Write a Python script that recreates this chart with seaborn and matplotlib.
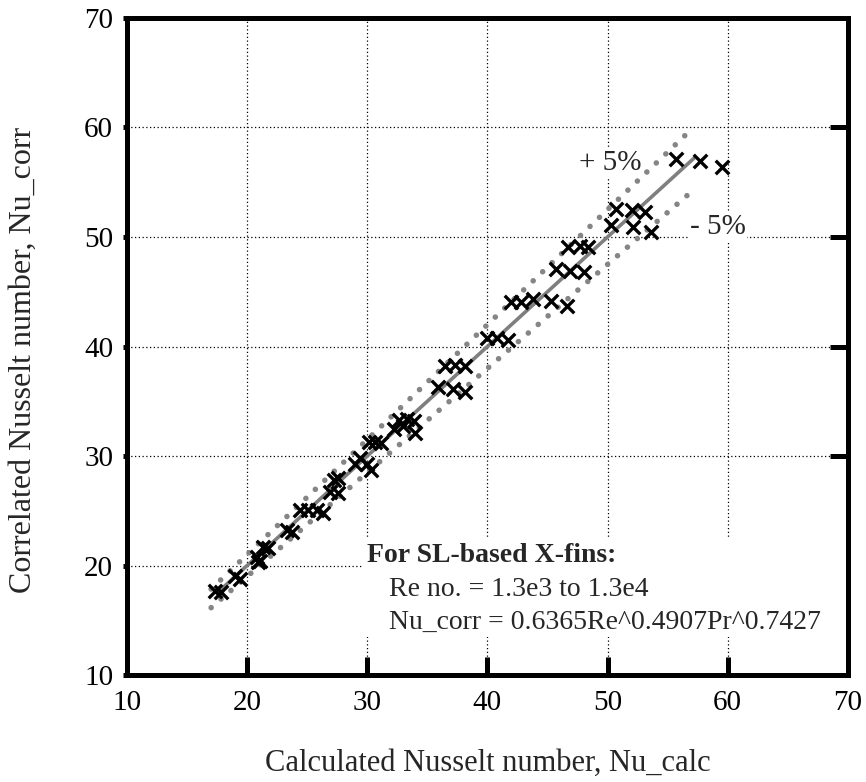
import matplotlib
matplotlib.use("Agg")
import matplotlib.pyplot as plt
import seaborn as sns
import numpy as np
import pandas as pd
from matplotlib.patches import Rectangle

# ---- data ----
nu_calc = [17.3, 17.8, 19.0, 19.4, 20.8, 21.1, 20.9, 21.3, 21.7, 23.3, 23.7,
           24.4, 25.1, 25.8, 26.3, 26.9, 27.6, 27.2, 27.6, 29.0, 29.4, 30.0, 30.3,
           30.1, 30.6, 31.1, 32.2, 32.6, 33.0, 33.3, 33.9, 34.0,
           36.5, 37.3, 38.1, 35.9, 37.1, 38.1, 40.0, 40.8, 41.7,
           42.0, 42.8, 43.8, 45.3, 46.6, 45.7, 46.9, 48.0, 46.7, 47.7, 48.4,
           50.7, 52.0, 53.1, 50.3, 52.1, 53.6, 55.7, 57.7, 59.5]
nu_corr = [17.7, 17.6, 19.0, 18.8, 20.8, 20.4, 20.3, 21.7, 21.6, 23.2, 23.1,
           25.1, 25.1, 25.1, 24.8, 26.7, 26.6, 27.8, 28.0, 29.3, 29.8, 29.3, 28.7,
           31.3, 31.3, 31.2, 32.5, 33.3, 32.7, 33.4, 33.2, 32.1,
           38.2, 38.3, 38.2, 36.3, 36.1, 35.8, 40.8, 40.8, 40.6,
           44.1, 44.1, 44.3, 44.2, 43.7, 47.05, 46.9, 46.8, 49.1, 49.2, 49.1,
           52.6, 52.5, 52.3, 51.1, 50.9, 50.5, 57.1, 56.9, 56.4]
parity_range = [17.5, 57.2]
band_range = [17.0, 57.1]
band_factors = [1.05, 0.95]
ticks = [10, 20, 30, 40, 50, 60, 70]
df = pd.DataFrame({"Nu_calc": nu_calc, "Nu_corr": nu_corr})

sns.set_theme(style="white")
plt.rcParams["font.family"] = ["Liberation Serif", "DejaVu Serif"]

fig = plt.figure(figsize=(8.66, 7.82), dpi=100)
ax = fig.add_axes([0.1467, 0.1368, 0.979 - 0.1467, 0.977 - 0.1368])

ax.set_xlim(10, 70)
ax.set_ylim(10, 70)
ax.set_xticks(ticks)
ax.set_yticks(ticks)
ax.grid(True, color="black", linestyle=(0, (1, 2)), linewidth=0.9)
ax.set_axisbelow(True)

# white box behind the annotation (hides grid)
ax.add_patch(Rectangle((29.6, 13.47), 70 - 29.6, 22.6 - 13.47,
                       facecolor="white", edgecolor="none", zorder=1.5))

# parity and +/-5% lines
ax.plot(parity_range, parity_range, color="#7f7f7f", lw=2.6, zorder=2)
for f in band_factors:
    bx = np.array(band_range)
    ax.plot(bx, bx * f, color="#858585", lw=4.0, linestyle=(0, (0.01, 2.35)),
            dash_capstyle="round", zorder=2)

sns.scatterplot(data=df, x="Nu_calc", y="Nu_corr", ax=ax, marker="x",
                color="black", s=95, linewidth=2.4, zorder=3)

fs = 21
ax.text(50.2, 56.8, "+ 5%", fontsize=fs, ha="center", va="center",
        bbox=dict(facecolor="white", edgecolor="none", pad=1), zorder=2.5)
ax.text(59.2, 50.9, "- 5%", fontsize=fs, ha="center", va="center",
        bbox=dict(facecolor="white", edgecolor="none", pad=1), zorder=2.5)

ax.text(30.0, 20.96, "For SL-based X-fins:", fontsize=fs - 1, fontweight="bold",
        ha="left", va="center", zorder=4)
ax.text(31.8, 17.85, "Re no. = 1.3e3 to 1.3e4", fontsize=fs - 1,
        ha="left", va="center", zorder=4)
ax.text(31.8, 14.84, "Nu_corr = 0.6365Re^0.4907Pr^0.7427", fontsize=fs - 1,
        ha="left", va="center", zorder=4)

for s in ax.spines.values():
    s.set_linewidth(3.6)
    s.set_color("black")
    s.set_visible(True)

ax.tick_params(axis="x", which="major", direction="in", length=13, width=3.6,
               bottom=True, top=False, labelsize=fs, pad=11, colors="black")
ax.tick_params(axis="y", which="major", direction="in", length=13, width=3.6,
               left=False, right=True, labelleft=True, labelright=False,
               labelsize=fs, pad=10, colors="black")
# small nubs on the left spine
for t in ticks:
    ax.plot([0, -0.006], [t, t], transform=ax.get_yaxis_transform(),
            color="black", lw=3.6, clip_on=False, solid_capstyle="butt")

ax.set_xlabel("Calculated Nusselt number, Nu_calc", fontsize=fs + 1)
ax.set_ylabel("Correlated Nusselt number, Nu_corr", fontsize=fs + 2)
ax.xaxis.set_label_coords(0.5, -0.113)
ax.yaxis.set_label_coords(-0.124, 0.48)

fig.savefig("out.png", dpi=100)
